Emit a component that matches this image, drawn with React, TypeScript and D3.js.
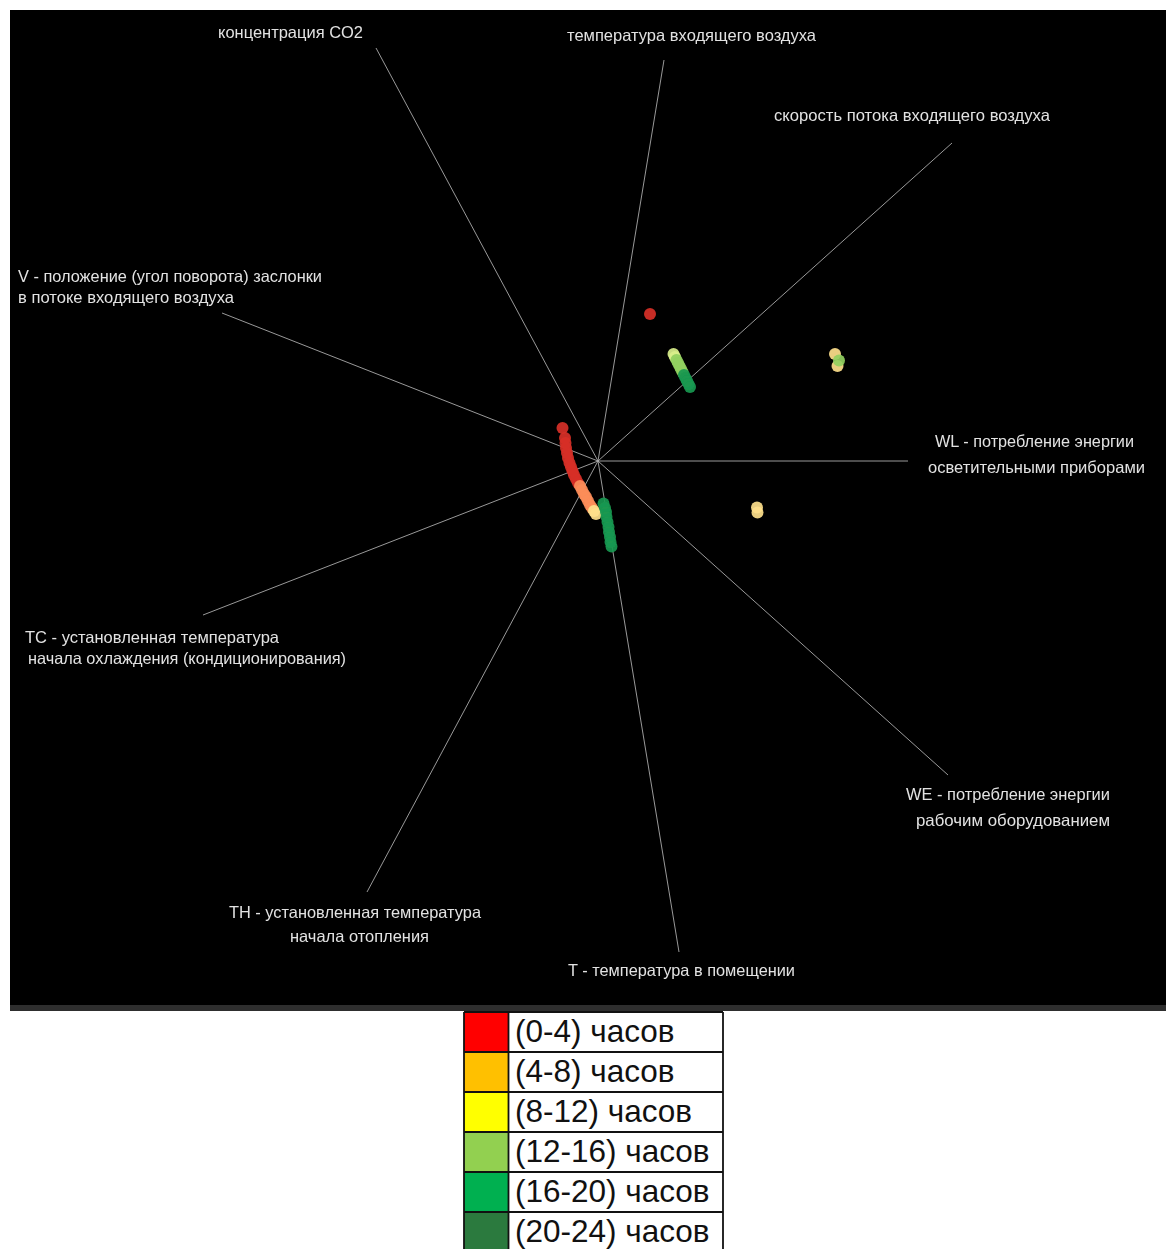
import React from 'react';
import * as d3 from 'd3';

// Star-coordinates axes: label lines and axis vectors in projection units
const axisLabels: string[][] = [
  ['концентрация CO2'],
  ['температура входящего воздуха'],
  ['скорость потока входящего воздуха'],
  ['WL - потребление энергии', 'осветительными приборами'],
  ['WE - потребление энергии', 'рабочим оборудованием'],
  ['T - температура в помещении'],
  ['TH - установленная температура', 'начала отопления'],
  ['TC - установленная температура', 'начала охлаждения (кондиционирования)'],
  ['V - положение (угол поворота) заслонки', 'в потоке входящего воздуха'],
];
const axisVecX = [-0.444, 0.132, 0.708, 0.62, 0.7, 0.162, -0.462, -0.79, -0.752];
const axisVecY = [0.826, 0.802, 0.636, 0, -0.628, -0.982, -0.862, -0.308, 0.296];

// Projected observations (x, y) and hour band index (0..5)
const obsX = [
  0.104,
  -0.071, -0.066, -0.065, -0.064, -0.062, -0.06, -0.057, -0.054, -0.051, -0.048, -0.044, -0.04,
  -0.036, -0.032, -0.028, -0.024, -0.02, -0.016, -0.012,
  -0.008, -0.004,
  0.011, 0.014, 0.016, 0.017, 0.019, 0.021, 0.022, 0.024, 0.025, 0.027,
  0.151, 0.154,
  0.157, 0.16, 0.163, 0.166, 0.169,
  0.172, 0.175, 0.178, 0.181, 0.184,
  0.474, 0.479, 0.482,
  0.318, 0.319,
];
const obsY = [
  0.294,
  0.066, 0.046, 0.036, 0.026, 0.016, 0.006, -0.004, -0.012, -0.02, -0.028, -0.036, -0.044,
  -0.05, -0.058, -0.066, -0.072, -0.08, -0.088, -0.094,
  -0.1, -0.106,
  -0.085, -0.094, -0.102, -0.112, -0.122, -0.132, -0.142, -0.152, -0.162, -0.171,
  0.214, 0.208,
  0.202, 0.196, 0.19, 0.184, 0.178,
  0.172, 0.166, 0.16, 0.154, 0.148,
  0.214, 0.19, 0.201,
  -0.093, -0.103,
];
const obsBand = [
  0,
  0, 0, 0, 0, 0, 0, 0, 0, 0, 0, 0, 0,
  1, 1, 1, 1, 1, 1, 1,
  2, 2,
  5, 5, 5, 5, 5, 5, 5, 5, 5, 5,
  3, 3,
  4, 4, 4, 4, 4,
  5, 5, 5, 5, 5,
  2, 2, 4,
  2, 2,
];

// Legend
const bandNames = ['(0-4) часов', '(4-8) часов', '(8-12) часов', '(12-16) часов', '(16-20) часов', '(20-24) часов'];
const bandLegendColors = ['#ff0000', '#ffc000', '#ffff00', '#92d050', '#00b050', '#2b7a3e'];

// Label placement (start x, first baseline, line widths)
const labelLayout = [
  { x: 218, y: 38, w: [145] },
  { x: 567, y: 41, w: [249] },
  { x: 774, y: 121, w: [276] },
  { x: 935, y: 447, w: [199], x2: 928, w2: 217, y2: 473 },
  { x: 906, y: 800, w: [204], x2: 916, w2: 194, y2: 826 },
  { x: 568, y: 976, w: [227] },
  { x: 229, y: 918, w: [252], x2: 290, w2: 139, y2: 942 },
  { x: 25, y: 643, w: [254], x2: 28, w2: 318, y2: 664 },
  { x: 18, y: 282, w: [304], x2: 18, w2: 216, y2: 303 },
];

const W = 1166;
const H = 1249;

export default function App() {
  const x = d3.scaleLinear().domain([-1, 1]).range([98, 1098]);
  const y = d3.scaleLinear().domain([-1, 1]).range([961, -39]);
  const color = d3.scaleOrdinal<number, string>().domain(d3.range(6)).range(d3.schemeRdYlGn[6]);

  const legendLeft = 464;
  const swatchRight = 508.5;
  const legendRight = 723;
  const legendTop = 1012;
  const rowH = 40;

  return (
    <svg
      width={W}
      height={H}
      viewBox={`0 0 ${W} ${H}`}
      style={{ position: 'absolute', left: 0, top: 0, background: '#fff' }}
    >
      <defs>
        <filter id="soft" x="-20%" y="-20%" width="140%" height="140%">
          <feGaussianBlur stdDeviation="0.7" />
        </filter>
      </defs>
      <rect x={10} y={10} width={1156} height={996} fill="#000" />
      <rect x={10} y={1005} width={1156} height={6} fill="#2e2e2e" />

      {/* axes */}
      <g stroke="#b4b4b4" strokeWidth={1} strokeOpacity={0.85}>
        {axisVecX.map((vx, i) => (
          <line key={i} x1={x(0)} y1={y(0)} x2={x(vx)} y2={y(axisVecY[i])} />
        ))}
      </g>

      {/* axis labels */}
      <g
        fill="#e2e2e2"
        fontFamily="'Liberation Sans Narrow', 'Arial Narrow', 'Liberation Sans', Arial, sans-serif"
        fontSize={16.5}
        filter="url(#soft)"
      >
        {axisLabels.map((lines, i) => {
          const L = labelLayout[i] as any;
          return (
            <g key={i}>
              <text x={L.x} y={L.y} textLength={L.w[0]} lengthAdjust="spacingAndGlyphs">
                {lines[0]}
              </text>
              {lines[1] && (
                <text x={L.x2} y={L.y2} textLength={L.w2} lengthAdjust="spacingAndGlyphs">
                  {lines[1]}
                </text>
              )}
            </g>
          );
        })}
      </g>

      {/* observations */}
      <g filter="url(#soft)">
        {obsX.map((ox, i) => (
          <circle key={i} cx={x(ox)} cy={y(obsY[i])} r={6} fill={color(obsBand[i])} fillOpacity={0.92} />
        ))}
      </g>

      {/* legend table */}
      <g>
        {bandNames.map((name, i) => {
          const top = legendTop + i * rowH;
          return (
            <g key={i}>
              <rect x={legendLeft} y={top} width={swatchRight - legendLeft} height={rowH} fill={bandLegendColors[i]} />
              <rect x={swatchRight} y={top} width={legendRight - swatchRight} height={rowH} fill="#fff" />
              <text
                x={515}
                y={top + 30}
                fontFamily="'Liberation Sans', Arial, sans-serif"
                fontSize={31.5}
                fill="#111"
              >
                {name}
              </text>
            </g>
          );
        })}
        <g stroke="#111" strokeWidth={1.8} fill="none">
          {bandNames.map((_, i) => (
            <line key={i} x1={legendLeft} x2={legendRight} y1={legendTop + i * rowH} y2={legendTop + i * rowH} />
          ))}
          <line x1={legendLeft} x2={legendLeft} y1={legendTop} y2={H} />
          <line x1={swatchRight} x2={swatchRight} y1={legendTop} y2={H} />
          <line x1={legendRight} x2={legendRight} y1={legendTop} y2={H} />
        </g>
      </g>
    </svg>
  );
}
